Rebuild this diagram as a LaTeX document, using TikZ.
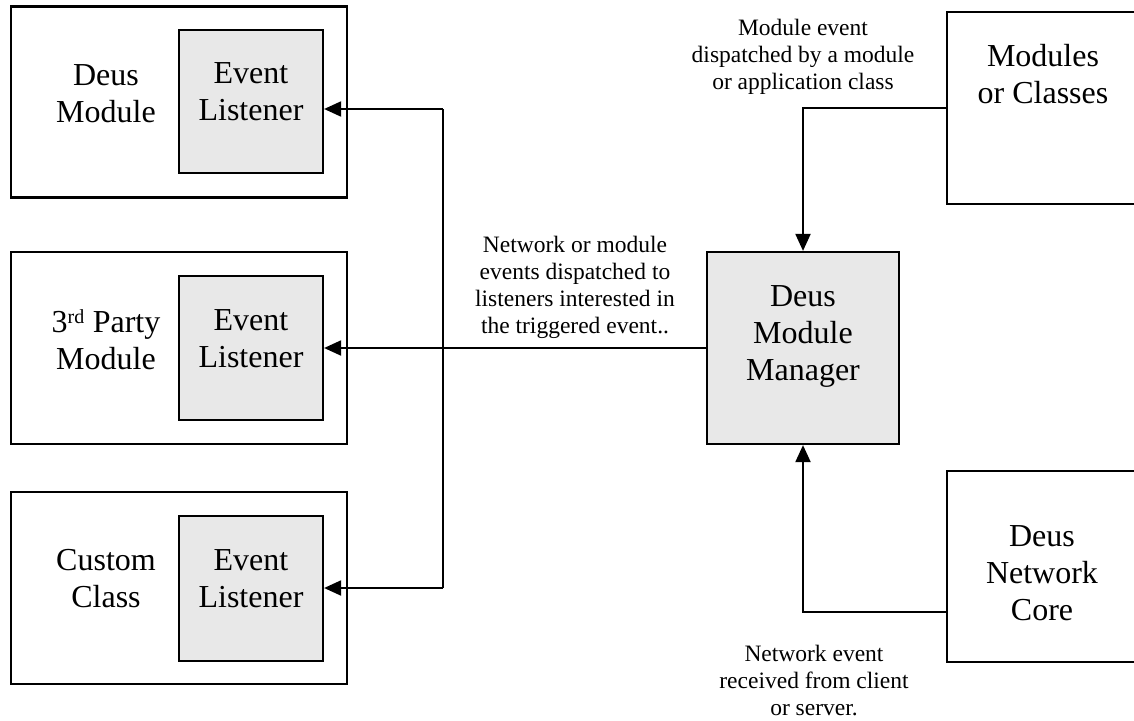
\documentclass[tikz,border=0pt]{standalone}
\usepackage{fontspec}
\setmainfont{Liberation Serif}
\usetikzlibrary{arrows.meta}
\definecolor{boxgray}{HTML}{E8E8E8}
\tikzset{
  outerbox/.style={draw, line width=2.2pt, rectangle, inner sep=0pt, fill=white},
  innerbox/.style={draw, line width=2.2pt, rectangle, inner sep=0pt, fill=boxgray},
  bigtext/.style={align=center, inner sep=0pt, font=\fontsize{32}{37}\selectfont},
  smalltext/.style={align=center, inner sep=0pt, font=\fontsize{23.5}{27}\selectfont},
  arr/.style={line width=2pt, -{Triangle[length=17pt,width=15pt]}},
  conn/.style={line width=2pt}
}
\begin{document}
\begin{tikzpicture}[x=1pt,y=-1pt]
\useasboundingbox (0,0) rectangle (1134,720);
\clip (0,0) rectangle (1134,720);
\fill[white] (0,0) rectangle (1134,720);
% left boxes
\node[outerbox, minimum width=336pt, minimum height=191pt] (b1) at (179,102) {};
\node[innerbox, minimum width=144pt, minimum height=143pt] (l1) at (251,101.5) {};
\node[outerbox, minimum width=336pt, minimum height=192pt] (b2) at (179,348) {};
\node[innerbox, minimum width=144pt, minimum height=144pt] (l2) at (251,348) {};
\node[outerbox, minimum width=336pt, minimum height=192pt] (b3) at (179,588) {};
\node[innerbox, minimum width=144pt, minimum height=145pt] (l3) at (251,588.5) {};
\node[bigtext] (t1) at (106,93.5) {Deus\\Module};
\node[bigtext] (e1) at (251,91.5) {Event\\Listener};
\node[bigtext] (t2) at (106,339.5) {3\textsuperscript{\fontsize{20}{20}\selectfont rd} Party\\Module};
\node[bigtext] (e2) at (251,338.5) {Event\\Listener};
\node[bigtext] (t3) at (106,578.5) {Custom\\Class};
\node[bigtext] (e3) at (251,578.5) {Event\\Listener};
% manager
\node[innerbox, minimum width=192pt, minimum height=192pt] (mgr) at (803,348) {};
\node[bigtext] (mgrt) at (803,336) {Deus\\Module\\Manager};
% right boxes
\node[outerbox, minimum width=203pt, minimum height=192pt] (mods) at (1048.5,108) {};
\node[bigtext] (modst) at (1043,74) {Modules\\or Classes};
\node[outerbox, minimum width=203pt, minimum height=191pt] (core) at (1048.5,566.5) {};
\node[bigtext] (coret) at (1042,573) {Deus\\Network\\Core};
% labels
\node[smalltext] (lab1) at (803,56.5) {Module event\\dispatched by a module\\or application class};
\node[smalltext] (lab2) at (575,287.5) {Network or module\\events dispatched to\\listeners interested in\\the triggered event..};
\node[smalltext] (lab3) at (814,680.5) {Network event\\received from client\\or server.};
% connectors
\coordinate (j1) at (443,109);
\coordinate (j3) at (443,588);
\coordinate (c1) at (947,612);
\draw[conn] (j1) -- (j3);
\draw[arr] (j1) -- (j1 -| l1.east);
\draw[arr] (j3) -- (j3 -| l3.east);
\draw[arr] (mgr.west) -- (l2.east);
\draw[arr] (mods.west) -| (mgr.north);
\draw[arr] (core.west |- c1) -| (mgr.south);
\end{tikzpicture}
\end{document}
